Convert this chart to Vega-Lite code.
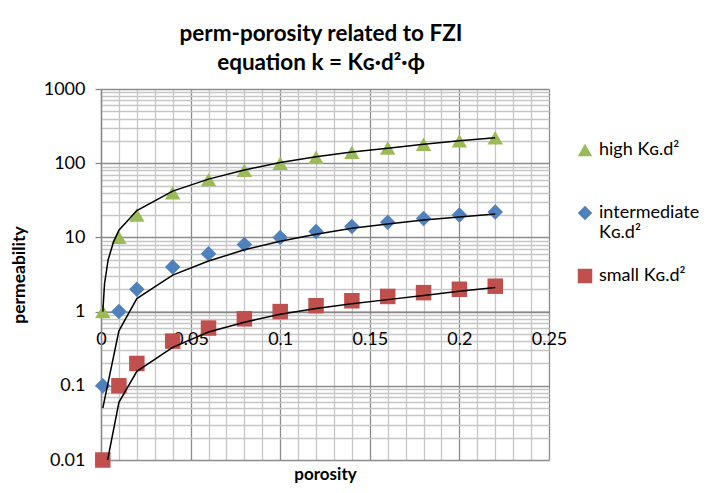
{
  "$schema": "https://vega.github.io/schema/vega-lite/v6.json",
  "autosize": "none",
  "width": 448,
  "height": 371,
  "padding": {"left": 101, "top": 89, "right": 158, "bottom": 33},
  "background": "white",
  "config": {
    "font": "Lato",
    "view": {"stroke": null},
    "axis": {"labelFont": "Lato", "titleFont": "Lato"},
    "legend": {"labelFont": "Lato"}
  },
  "title": {
    "text": ["perm-porosity related to FZI", "equation k = Kɢ·d²·ϕ"],
    "font": "Lato",
    "fontSize": 22.5,
    "fontWeight": "bold",
    "color": "#000000",
    "anchor": "middle",
    "frame": "group",
    "dx": -4,
    "lineHeight": 29,
    "offset": 6
  },
  "datasets": {
    "markers": [
      {"series": "high", "phi": 0.001, "k": 1},
      {"series": "high", "phi": 0.01, "k": 10},
      {"series": "high", "phi": 0.02, "k": 20},
      {"series": "high", "phi": 0.04, "k": 40},
      {"series": "high", "phi": 0.06, "k": 60},
      {"series": "high", "phi": 0.08, "k": 80},
      {"series": "high", "phi": 0.1, "k": 100},
      {"series": "high", "phi": 0.12, "k": 120},
      {"series": "high", "phi": 0.14, "k": 140},
      {"series": "high", "phi": 0.16, "k": 160},
      {"series": "high", "phi": 0.18, "k": 180},
      {"series": "high", "phi": 0.2, "k": 200},
      {"series": "high", "phi": 0.22, "k": 220},
      {"series": "intermediate", "phi": 0.001, "k": 0.1},
      {"series": "intermediate", "phi": 0.01, "k": 1},
      {"series": "intermediate", "phi": 0.02, "k": 2},
      {"series": "intermediate", "phi": 0.04, "k": 4},
      {"series": "intermediate", "phi": 0.06, "k": 6},
      {"series": "intermediate", "phi": 0.08, "k": 8},
      {"series": "intermediate", "phi": 0.1, "k": 10},
      {"series": "intermediate", "phi": 0.12, "k": 12},
      {"series": "intermediate", "phi": 0.14, "k": 14},
      {"series": "intermediate", "phi": 0.16, "k": 16},
      {"series": "intermediate", "phi": 0.18, "k": 18},
      {"series": "intermediate", "phi": 0.2, "k": 20},
      {"series": "intermediate", "phi": 0.22, "k": 22},
      {"series": "small", "phi": 0.001, "k": 0.01},
      {"series": "small", "phi": 0.01, "k": 0.1},
      {"series": "small", "phi": 0.02, "k": 0.2},
      {"series": "small", "phi": 0.04, "k": 0.4},
      {"series": "small", "phi": 0.06, "k": 0.6},
      {"series": "small", "phi": 0.08, "k": 0.8},
      {"series": "small", "phi": 0.1, "k": 1},
      {"series": "small", "phi": 0.12, "k": 1.2},
      {"series": "small", "phi": 0.14, "k": 1.4},
      {"series": "small", "phi": 0.16, "k": 1.6},
      {"series": "small", "phi": 0.18, "k": 1.8},
      {"series": "small", "phi": 0.2, "k": 2},
      {"series": "small", "phi": 0.22, "k": 2.2}
    ],
    "curves": [
      {"series": "high", "phi": 0.001, "k": 1.0},
      {"series": "high", "phi": 0.002, "k": 2.4},
      {"series": "high", "phi": 0.004, "k": 5.0},
      {"series": "high", "phi": 0.007, "k": 8.7},
      {"series": "high", "phi": 0.01, "k": 12.5},
      {"series": "high", "phi": 0.02, "k": 23},
      {"series": "high", "phi": 0.04, "k": 42},
      {"series": "high", "phi": 0.06, "k": 61},
      {"series": "high", "phi": 0.08, "k": 81},
      {"series": "high", "phi": 0.1, "k": 102},
      {"series": "high", "phi": 0.12, "k": 122},
      {"series": "high", "phi": 0.14, "k": 142},
      {"series": "high", "phi": 0.16, "k": 159},
      {"series": "high", "phi": 0.18, "k": 180},
      {"series": "high", "phi": 0.2, "k": 201},
      {"series": "high", "phi": 0.22, "k": 221},
      {"series": "intermediate", "phi": 0.001, "k": 0.05},
      {"series": "intermediate", "phi": 0.01, "k": 0.55},
      {"series": "intermediate", "phi": 0.02, "k": 1.5},
      {"series": "intermediate", "phi": 0.04, "k": 3.1},
      {"series": "intermediate", "phi": 0.06, "k": 4.8},
      {"series": "intermediate", "phi": 0.08, "k": 6.8},
      {"series": "intermediate", "phi": 0.1, "k": 8.9},
      {"series": "intermediate", "phi": 0.12, "k": 11},
      {"series": "intermediate", "phi": 0.14, "k": 13.3},
      {"series": "intermediate", "phi": 0.16, "k": 15.2},
      {"series": "intermediate", "phi": 0.18, "k": 17.1},
      {"series": "intermediate", "phi": 0.2, "k": 18.9},
      {"series": "intermediate", "phi": 0.22, "k": 20.6},
      {"series": "small", "phi": 0.0037, "k": 0.01},
      {"series": "small", "phi": 0.01, "k": 0.06},
      {"series": "small", "phi": 0.02, "k": 0.157},
      {"series": "small", "phi": 0.04, "k": 0.33},
      {"series": "small", "phi": 0.06, "k": 0.53},
      {"series": "small", "phi": 0.08, "k": 0.72},
      {"series": "small", "phi": 0.1, "k": 0.92},
      {"series": "small", "phi": 0.12, "k": 1.1},
      {"series": "small", "phi": 0.14, "k": 1.28},
      {"series": "small", "phi": 0.16, "k": 1.45},
      {"series": "small", "phi": 0.18, "k": 1.65},
      {"series": "small", "phi": 0.2, "k": 1.88},
      {"series": "small", "phi": 0.22, "k": 2.12}
    ]
  },
  "encoding": {
    "x": {
      "field": "phi",
      "type": "quantitative",
      "scale": {"domain": [0, 0.25], "nice": false, "zero": false},
      "axis": {
        "title": "porosity",
        "titleFontSize": 17,
        "titleFontWeight": "bold",
        "titleColor": "#000000",
        "titleBaseline": "middle",
        "titleY": 163,
        "offset": -148.4,
        "values": [0, 0.01, 0.02, 0.03, 0.04, 0.05, 0.06, 0.07, 0.08, 0.09, 0.1, 0.11, 0.12, 0.13, 0.14, 0.15, 0.16, 0.17, 0.18, 0.19, 0.2, 0.21, 0.22, 0.23, 0.24, 0.25],
        "labelExpr": "abs(datum.value * 20 - round(datum.value * 20)) < 1e-6 ? format(datum.value, '~g') : ''",
        "labelFontSize": 18,
        "labelColor": "#000000",
        "labelPadding": 19,
        "labelFlush": false,
        "labelOverlap": false,
        "ticks": false,
        "domainColor": "#868686",
        "domainWidth": 1.3,
        "grid": true,
        "gridWidth": 1.3,
        "gridColor": {
          "condition": {"test": "abs(datum.value * 20 - round(datum.value * 20)) < 1e-6", "value": "#8c8c8c"},
          "value": "#c6c6c6"
        }
      }
    },
    "y": {
      "field": "k",
      "type": "quantitative",
      "scale": {"type": "log", "domain": [0.01, 1000], "nice": false},
      "axis": {
        "title": "permeability",
        "titleFontSize": 17.5,
        "titleFontWeight": "bold",
        "titleColor": "#000000",
        "titlePadding": 15,
        "values": [0.01, 0.02, 0.03, 0.04, 0.05, 0.06, 0.07, 0.08, 0.09, 0.1, 0.2, 0.3, 0.4, 0.5, 0.6, 0.7, 0.8, 0.9, 1, 2, 3, 4, 5, 6, 7, 8, 9, 10, 20, 30, 40, 50, 60, 70, 80, 90, 100, 200, 300, 400, 500, 600, 700, 800, 900, 1000],
        "labelExpr": "abs(log(datum.value) / LN10 - round(log(datum.value) / LN10)) < 1e-6 ? format(datum.value, '~g') : ''",
        "labelFontSize": 18,
        "labelColor": "#000000",
        "labelPadding": 10,
        "labelOverlap": false,
        "tickSize": 6,
        "tickWidth": 1.3,
        "tickColor": {
          "condition": {"test": "abs(log(datum.value) / LN10 - round(log(datum.value) / LN10)) < 1e-6", "value": "#868686"},
          "value": "transparent"
        },
        "domainColor": "#868686",
        "domainWidth": 1.3,
        "grid": true,
        "gridWidth": 1.3,
        "gridColor": {
          "condition": {"test": "abs(log(datum.value) / LN10 - round(log(datum.value) / LN10)) < 1e-6", "value": "#8c8c8c"},
          "value": "#c6c6c6"
        }
      }
    }
  },
  "layer": [
    {
      "data": {"name": "markers"},
      "mark": {"type": "point", "filled": true, "opacity": 1, "size": 240, "strokeWidth": 0},
      "encoding": {
        "color": {
          "field": "series",
          "type": "nominal",
          "scale": {"domain": ["high", "intermediate", "small"], "range": ["#9BBB59", "#4F81BD", "#C0504D"]},
          "legend": {
            "title": null,
            "orient": "none",
            "legendX": 475,
            "legendY": 52,
            "padding": 0,
            "rowPadding": 25,
            "symbolSize": 210,
            "symbolStrokeWidth": 0,
            "labelFontSize": 18,
            "labelColor": "#000000",
            "labelOffset": 5,
            "labelLimit": 200,
            "labelExpr": "datum.label == 'high' ? ['high Kɢ.d²', ''] : datum.label == 'intermediate' ? ['intermediate', 'Kɢ.d²'] : ['small Kɢ.d²', '']"
          }
        },
        "shape": {
          "field": "series",
          "type": "nominal",
          "scale": {"domain": ["high", "intermediate", "small"], "range": ["triangle-up", "diamond", "square"]}
        }
      }
    },
    {
      "data": {"name": "curves"},
      "mark": {"type": "line", "color": "#000000", "strokeWidth": 1.5, "clip": true},
      "encoding": {
        "detail": {"field": "series", "type": "nominal"}
      }
    }
  ]
}
